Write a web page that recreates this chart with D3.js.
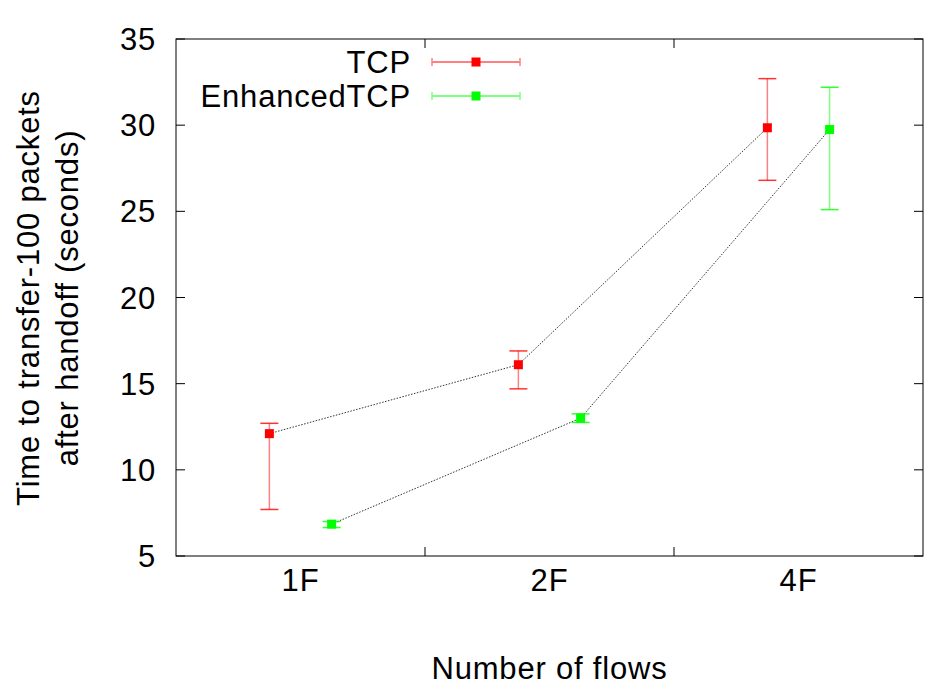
<!DOCTYPE html>
<html>
<head>
<meta charset="utf-8">
<script src="https://cdnjs.cloudflare.com/ajax/libs/d3/7.8.5/d3.min.js"></script>
<style>
  body { margin: 0; background: #fff; }
  svg { font-family: "Liberation Sans", Arial, sans-serif; }
  text { font-size: 31px; letter-spacing: 0.8px; fill: #000; }
</style>
</head>
<body>
<svg width="944" height="693"></svg>
<script>
var categories = ["1F", "2F", "4F"];
var yTicks = [5, 10, 15, 20, 25, 30, 35];

var tcpMean = [12.1, 16.1, 29.85];
var tcpLow  = [7.7, 14.7, 26.8];
var tcpHigh = [12.7, 16.9, 32.7];

var enhMean = [6.85, 13.0, 29.75];
var enhLow  = [6.65, 12.75, 25.1];
var enhHigh = [7.0, 13.25, 32.2];

var series = [
  {name: "TCP", color: "#ff0000", bar: "#ff8080", offset: -0.125, mean: tcpMean, low: tcpLow, high: tcpHigh},
  {name: "EnhancedTCP", color: "#00ff00", bar: "#80ff80", offset: 0.125, mean: enhMean, low: enhLow, high: enhHigh}
];

var svg = d3.select("svg");
var margin = {top: 39, right: 21, bottom: 137, left: 176};
var width = +svg.attr("width") - margin.left - margin.right;
var height = +svg.attr("height") - margin.top - margin.bottom;

var x = d3.scaleLinear().domain([0, categories.length]).range([0, width]);
var y = d3.scaleLinear().domain([5, 35]).range([height, 0]);

var g = svg.append("g")
    .attr("transform", "translate(" + margin.left + "," + margin.top + ")");

// frame
g.append("rect")
    .attr("width", width)
    .attr("height", height)
    .attr("fill", "none")
    .attr("stroke", "#000")
    .attr("stroke-width", 1);

// y ticks, mirrored on the right
yTicks.forEach(function(t) {
  g.append("line").attr("x1", 0).attr("x2", 9).attr("y1", y(t)).attr("y2", y(t)).attr("stroke", "#000");
  g.append("line").attr("x1", width - 9).attr("x2", width).attr("y1", y(t)).attr("y2", y(t)).attr("stroke", "#000");
  g.append("text")
      .attr("x", -20)
      .attr("y", y(t))
      .attr("dy", "0.36em")
      .attr("text-anchor", "end")
      .text(t);
});

// category boundary ticks top and bottom
d3.range(1, categories.length).forEach(function(t) {
  g.append("line").attr("x1", x(t)).attr("x2", x(t)).attr("y1", height).attr("y2", height - 9).attr("stroke", "#000");
  g.append("line").attr("x1", x(t)).attr("x2", x(t)).attr("y1", 0).attr("y2", 9).attr("stroke", "#000");
});

categories.forEach(function(c, i) {
  g.append("text")
      .attr("x", x(i + 0.5))
      .attr("y", height + 35)
      .attr("text-anchor", "middle")
      .text(c);
});

// axis titles
g.append("text")
    .attr("x", width / 2)
    .attr("y", height + 123)
    .attr("text-anchor", "middle")
    .text("Number of flows");

var ylab = svg.append("text")
    .attr("transform", "translate(0,298) rotate(-90)")
    .attr("text-anchor", "middle");
ylab.append("tspan").attr("x", 0).attr("y", 39).text("Time to transfer-100 packets");
ylab.append("tspan").attr("x", 0).attr("y", 78).text("after handoff (seconds)");

var line = d3.line()
    .x(function(d) { return d.x; })
    .y(function(d) { return d.y; });

series.forEach(function(s) {
  var pts = s.mean.map(function(m, i) { return {x: x(i + 0.5 + s.offset), y: y(m)}; });

  g.append("path")
      .attr("d", line(pts))
      .attr("fill", "none")
      .attr("stroke", "#333")
      .attr("stroke-width", 1)
      .attr("stroke-dasharray", "1.5,1.5");

  s.mean.forEach(function(m, i) {
    var cx = x(i + 0.5 + s.offset);
    var eb = g.append("g").attr("stroke", s.bar).attr("stroke-width", 1.5);
    eb.append("line").attr("x1", cx).attr("x2", cx).attr("y1", y(s.low[i])).attr("y2", y(s.high[i]));
    eb.append("line").attr("x1", cx - 9).attr("x2", cx + 9).attr("y1", y(s.low[i])).attr("y2", y(s.low[i])).attr("stroke", s.color).attr("stroke-opacity", 0.8);
    eb.append("line").attr("x1", cx - 9).attr("x2", cx + 9).attr("y1", y(s.high[i])).attr("y2", y(s.high[i])).attr("stroke", s.color).attr("stroke-opacity", 0.8);
    g.append("rect")
        .attr("x", cx - 4.5)
        .attr("y", y(m) - 4.5)
        .attr("width", 9)
        .attr("height", 9)
        .attr("fill", s.color);
  });
});

// legend
var legend = g.append("g");
series.forEach(function(s, i) {
  var ly = 23 + i * 34;
  legend.append("text")
      .attr("x", 235)
      .attr("y", ly)
      .attr("dy", "0.36em")
      .attr("text-anchor", "end")
      .text(s.name);
  legend.append("line").attr("x1", 256).attr("x2", 344).attr("y1", ly).attr("y2", ly).attr("stroke", s.color).attr("stroke-width", 1);
  legend.append("line").attr("x1", 256).attr("x2", 256).attr("y1", ly - 4).attr("y2", ly + 4).attr("stroke", s.bar).attr("stroke-width", 1.5);
  legend.append("line").attr("x1", 344).attr("x2", 344).attr("y1", ly - 4).attr("y2", ly + 4).attr("stroke", s.bar).attr("stroke-width", 1.5);
  legend.append("rect").attr("x", 300 - 4.5).attr("y", ly - 4.5).attr("width", 9).attr("height", 9).attr("fill", s.color);
});
</script>
</body>
</html>
